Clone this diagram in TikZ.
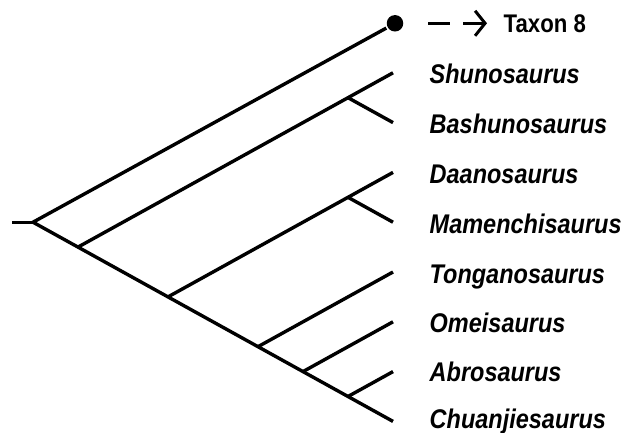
\documentclass[tikz,border=0pt]{standalone}
\usepackage{fontspec}
\setmainfont{Liberation Sans}
\newfontfamily\taxafont[FakeStretch=0.87]{Liberation Sans}
\usetikzlibrary{arrows.meta}

\begin{document}
\begin{tikzpicture}[x=1pt, y=-1pt, line width=3.4pt]
            \tikzstyle{taxon}=[anchor=base west, inner sep=0pt, font=\taxafont\fontsize{27}{30}\selectfont\bfseries\itshape]
            \tikzstyle{tip}=[circle, fill=black, inner sep=0pt, minimum size=16.5pt]
            \useasboundingbox (0,0) rectangle (621,433);

            % tips and inner nodes
            \node[tip] (t0) at (395,23.3) {};
            \coordinate (t1) at (393,72.8);
            \coordinate (t2) at (393,122.6);
            \coordinate (t3) at (393,172.4);
            \coordinate (t4) at (393,222.2);
            \coordinate (t5) at (393,272);
            \coordinate (t6) at (393,321.8);
            \coordinate (t7) at (393,371.6);
            \coordinate (t8) at (393,421.4);

            \coordinate (s)   at (12,222.2);
            \coordinate (r)   at (33,222.2);
            \coordinate (n1)  at (78,247.1);
            \coordinate (n12) at (348,97.7);
            \coordinate (n2)  at (168,296.9);
            \coordinate (n34) at (348,197.3);
            \coordinate (n3)  at (258,346.7);
            \coordinate (n4)  at (303,371.6);
            \coordinate (n78) at (348,396.5);

            % labels
            \node[anchor=west, inner sep=0pt, font=\taxafont\fontsize{25.5}{30}\selectfont\bfseries] (x8) at (502,23.3) {Taxon 8};
            \node[taxon] (x1) at (428,84)    {Shunosaurus};
            \node[taxon] (x2) at (428,133.6) {Bashunosaurus};
            \node[taxon] (x3) at (428,183.4) {Daanosaurus};
            \node[taxon] (x4) at (428,233.2) {Mamenchisaurus};
            \node[taxon] (x5) at (428,283)   {Tonganosaurus};
            \node[taxon] (x6) at (428,332.5) {Omeisaurus};
            \node[taxon] (x7) at (428,381.8) {Abrosaurus};
            \node[taxon] (x8b) at (428,428.5) {Chuanjiesaurus};

            \draw (s) -- (r);
            \draw (t0) -- (r) -- (t8);

            \draw (n1) -- (t1);
            \draw (n12) -- (t2);

            \draw (n2) -- (t3);
            \draw (n34) -- (t4);

            \draw (n3) -- (t5);
            \draw (n4) -- (t6);
            \draw (n78) -- (t7);

            \draw[line width=3pt, dash pattern=on 21.5pt off 13.5pt on 40pt, -{Straight Barb[length=10pt,width=25pt]}] ([xshift=23.5pt]t0.east) -- ([xshift=-15pt]x8.west);
        \end{tikzpicture}
\end{document}
